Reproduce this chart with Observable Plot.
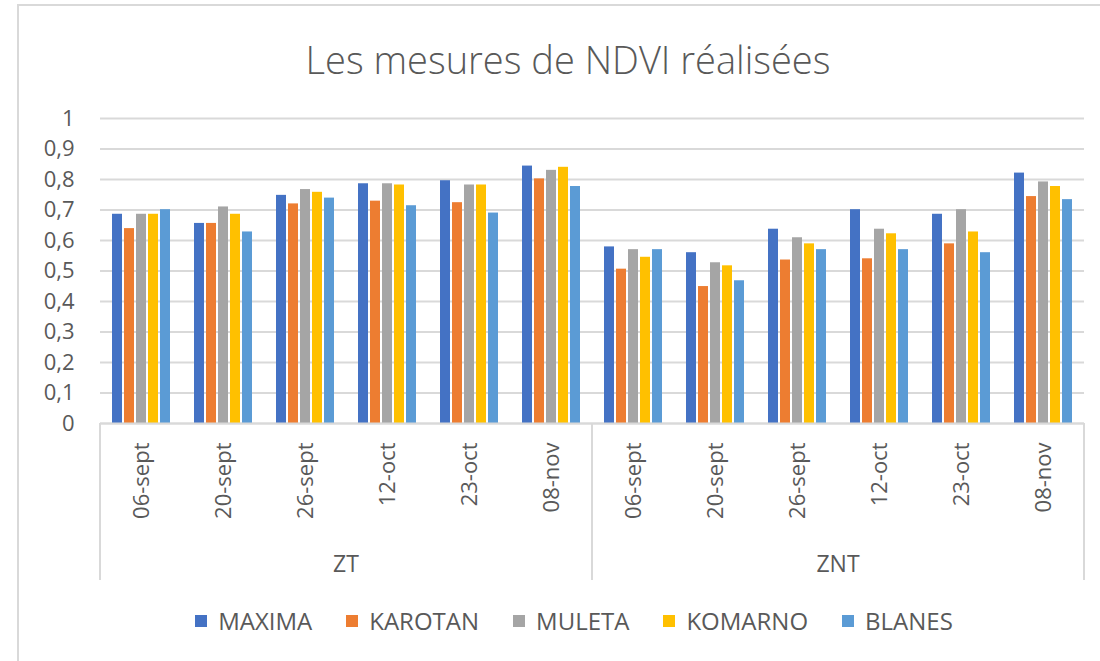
<!DOCTYPE html>
<html>
<head>
<meta charset="utf-8">
<script src="https://cdn.jsdelivr.net/npm/d3@7"></script>
<script src="https://cdn.jsdelivr.net/npm/@observablehq/plot@0.6"></script>
<style>
  html, body { margin: 0; padding: 0; background: #fff; }
  body { width: 1100px; height: 661px; position: relative; overflow: hidden; font-family: "Open Sans", sans-serif; color: #595959; }
  #frame { position: absolute; left: 17px; top: 4px; width: 1100px; height: 700px; border-left: 2px solid #d9d9d9; border-top: 2px solid #d9d9d9; }
  #title { position: absolute; left: 36px; right: 0; top: 40px; text-align: center; font-size: 38px; line-height: 38px; font-weight: 300; color: #595959; }
  #chart { position: absolute; left: 0; top: 100px; }
  #legend { position: absolute; left: 48px; right: 0; top: 606px; display: flex; justify-content: center; gap: 34px; font-size: 24px; line-height: 30px; color: #595959; }
  #legend .item { display: flex; align-items: center; gap: 11px; }
  #legend .sw { width: 12px; height: 12px; display: inline-block; }
</style>
</head>
<body>
<div id="frame"></div>
<div id="title">Les mesures de NDVI réalisées</div>
<div id="chart"></div>
<div id="legend"></div>
<script>
const groups = ["ZT", "ZNT"];
const dates = ["06-sept", "20-sept", "26-sept", "12-oct", "23-oct", "08-nov"];
const series = ["MAXIMA", "KAROTAN", "MULETA", "KOMARNO", "BLANES"];
const colors = ["#4472C4", "#ED7D31", "#A5A5A5", "#FFC000", "#5B9BD5"];
const yTicks = [0, 0.1, 0.2, 0.3, 0.4, 0.5, 0.6, 0.7, 0.8, 0.9, 1];

// values: first 6 = ZT dates, last 6 = ZNT dates
const MAXIMA  = [0.686, 0.656, 0.748, 0.786, 0.796, 0.844,  0.579, 0.560, 0.637, 0.701, 0.686, 0.821];
const KAROTAN = [0.639, 0.656, 0.720, 0.729, 0.724, 0.802,  0.506, 0.449, 0.536, 0.540, 0.589, 0.744];
const MULETA  = [0.686, 0.710, 0.767, 0.786, 0.782, 0.830,  0.570, 0.527, 0.609, 0.637, 0.701, 0.792];
const KOMARNO = [0.686, 0.686, 0.758, 0.782, 0.782, 0.840,  0.545, 0.517, 0.589, 0.622, 0.628, 0.777];
const BLANES  = [0.701, 0.628, 0.739, 0.714, 0.690, 0.777,  0.570, 0.468, 0.570, 0.570, 0.560, 0.734];

const valuesBySeries = {MAXIMA, KAROTAN, MULETA, KOMARNO, BLANES};
const keys = [];
const data = [];
groups.forEach((g, gi) => {
  dates.forEach((d, di) => {
    const key = g + "|" + d;
    keys.push(key);
    series.forEach(s => {
      data.push({key, group: g, date: d, series: s, value: valuesBySeries[s][gi * dates.length + di]});
    });
  });
});

const plot = Plot.plot({
  width: 1100,
  height: 490,
  marginTop: 18,
  marginBottom: 167,
  marginLeft: 98,
  marginRight: 15,
  style: {fontFamily: "Open Sans, sans-serif", fontSize: "22px", color: "#595959", background: "transparent", overflow: "visible"},
  fx: {domain: keys, padding: 0, label: null, tickRotate: -90, tickSize: 0, tickPadding: 19, tickFormat: k => k.split("|")[1]},
  x: {domain: series, paddingInner: 0.17, paddingOuter: 1, axis: null},
  y: {domain: [0, 1], ticks: yTicks, tickSize: 0, tickPadding: 26, tickFormat: v => String(v).replace(".", ","), label: null},
  color: {domain: series, range: colors},
  marks: [
    Plot.ruleY(yTicks, {stroke: "#d9d9d9", strokeWidth: 2}),
    Plot.barY(data, {fx: "key", x: "series", y: "value", fill: "series"}),
    Plot.ruleY([0], {stroke: "#d9d9d9", strokeWidth: 2})
  ]
});

// Group separators and group labels using the plot's own scales
const fx = plot.scale("fx");
const ys = plot.scale("y");
const y0 = ys.apply(0);
const svg = d3.select(plot);
const gSep = svg.append("g").attr("stroke", "#d9d9d9").attr("stroke-width", 2);
const bounds = [];
groups.forEach((g, gi) => {
  const first = keys[gi * dates.length];
  const last = keys[gi * dates.length + dates.length - 1];
  const x0 = fx.apply(first);
  const x1 = fx.apply(last) + fx.bandwidth;
  bounds.push(x0);
  if (gi === groups.length - 1) bounds.push(x1);
  svg.append("text")
    .attr("x", (x0 + x1) / 2)
    .attr("y", y0 + 141)
    .attr("dy", "0.35em")
    .attr("text-anchor", "middle")
    .attr("fill", "#595959")
    .attr("font-size", 23)
    .text(g);
});
bounds.forEach(x => {
  gSep.append("line").attr("x1", x).attr("x2", x).attr("y1", y0).attr("y2", y0 + 157);
});

document.getElementById("chart").appendChild(plot);

// Legend
const legend = d3.select("#legend");
series.forEach((s, i) => {
  const it = legend.append("div").attr("class", "item");
  it.append("span").attr("class", "sw").style("background", colors[i]);
  it.append("span").text(s);
});
</script>
</body>
</html>
